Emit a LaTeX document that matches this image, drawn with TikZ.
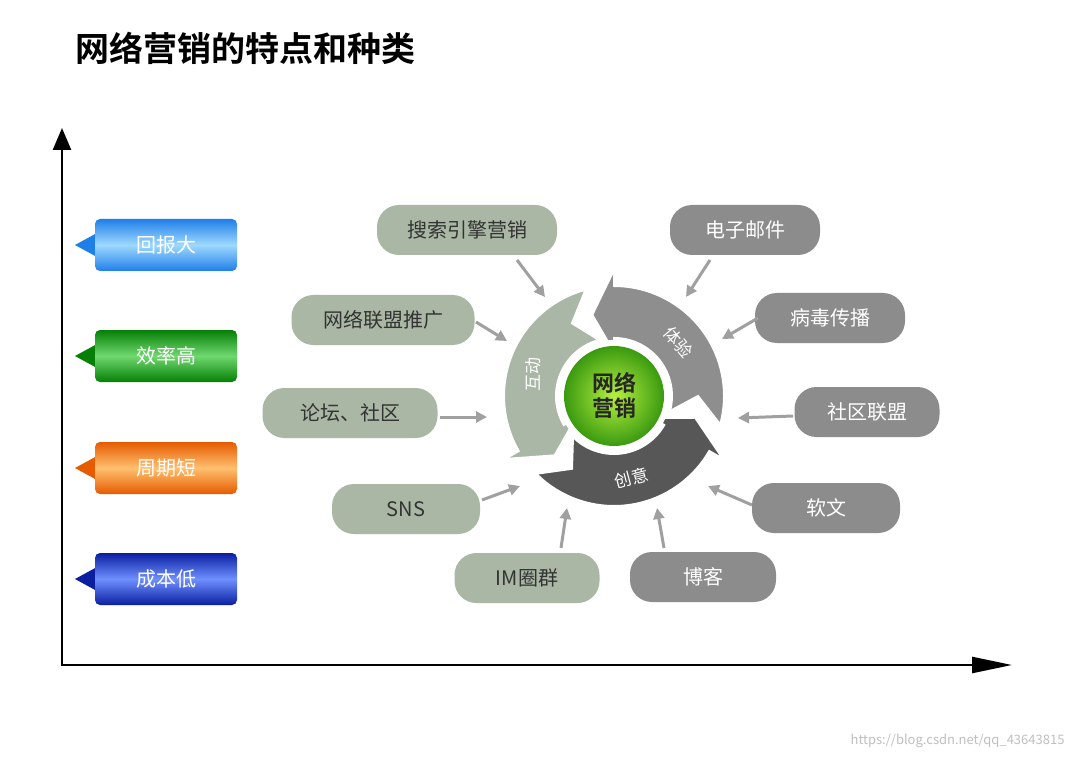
\documentclass[tikz,border=0pt]{standalone}
\usepackage{fontspec}
\setmainfont{Noto Sans CJK SC}
\newfontfamily\cjkb{Noto Sans CJK SC Bold}
\usetikzlibrary{arrows.meta,calc}
\definecolor{pillL}{HTML}{A9B7A4}
\definecolor{pillR}{HTML}{8C8C8C}
\definecolor{segA}{HTML}{AAB6A6}
\definecolor{segB}{HTML}{8E8E8E}
\definecolor{segC}{HTML}{575757}
\definecolor{arr}{HTML}{A0A0A0}
\definecolor{ballin}{HTML}{B8F040}
\definecolor{ballout}{HTML}{3A9A10}
\tikzset{
  pl/.style={fill=pillL,rounded corners=22pt,minimum height=50pt,text=black!80,font=\fontsize{20}{20}\selectfont,inner sep=0pt},
  pr/.style={fill=pillR,rounded corners=22pt,minimum height=50pt,text=white,font=\fontsize{20}{20}\selectfont,inner sep=0pt},
  feed/.style={draw=arr,line width=3pt,-{Triangle[length=11pt,width=11pt]}},
  seglab/.style={text=white,font=\fontsize{17}{17}\selectfont,inner sep=1pt},
  tagtxt/.style={text=white,font=\fontsize{20}{20}\selectfont}
}
\begin{document}
\begin{tikzpicture}[x=1pt,y=1pt]
\useasboundingbox[fill=white] (0,0) rectangle (1076,-759);
\node[anchor=west,font=\cjkb\fontsize{34}{34}\selectfont] (title) at (72,-48) {网络营销的特点和种类};
% axes
\coordinate (o) at (62,-665);
\coordinate (yt) at (62,-128);
\coordinate (xt) at (1012,-665);
\draw[line width=2.5pt,-{Triangle[length=22pt,width=18pt]}] (o) -- (yt);
\draw[line width=2.5pt,-{Triangle[length=40pt,width=16pt]}] ($(o)+(-1.2,0)$) -- (xt);
% tags
\foreach \y/\ca/\cb/\t/\n in {245/9FD8FF/1E7FE8/回报大/ta,356/6FD86F/067F06/效率高/tb,468/FFC070/E65A00/周期短/tc,579/6F8FFF/0A1FA0/成本低/td}{
  \definecolor{tc1}{HTML}{\ca}\definecolor{tc2}{HTML}{\cb}
  \fill[tc2] (75,-\y) -- (97,-\y+12) -- (97,-\y-12) -- cycle;
  \shade[rounded corners=5pt,top color=tc2,bottom color=tc2,middle color=tc1] (95,-\y+26) rectangle (237,-\y-26);
  \node[tagtxt] (\n) at (166,-\y) {\t};
}
% ring
\coordinate (c) at (614,-396);
\def\Ro{110}\def\Ri{58}\def\Rm{84}
\newcommand{\seg}[4]{% start, bodyend, color, tip
  \fill[#3,draw=white,line width=2pt]
   ($(c)+(#1:\Ro)$) arc[start angle=#1,end angle=#2,radius=\Ro]
   -- ($(c)+(#2:\Ro+16)$) -- ($(c)+(#4:\Rm)$) -- ($(c)+(#2:\Ri-14)$)
   -- ($(c)+(#2:\Ri)$) arc[start angle=#2,end angle=#1,radius=\Ri]
   -- ($(c)+(#1+15:\Rm)$) -- cycle;}
\seg{105}{210}{segA}{225}
\seg{225}{330}{segC}{345}
\seg{-15}{90}{segB}{105}
\fill[white] (c) circle (56);
\shade[inner color=ballin,outer color=ballout] (c) circle (50);
\node[font=\cjkb\fontsize{22}{25}\selectfont,align=center,text=black!85] (center) at (c) {网络\\营销};
\node[seglab,rotate=90] (hd) at ($(c)+(165:\Rm)$) {互动};
\node[seglab,rotate=-50] (ty) at ($(c)+(40:\Rm)$) {体验};
\node[seglab,rotate=15] (cy) at ($(c)+(282:\Rm)$) {创意};
% pills
\node[pl,minimum width=180pt] (p1) at (467,-230) {搜索引擎营销};
\node[pl,minimum width=183pt] (p2) at (383,-320) {网络联盟推广};
\node[pl,minimum width=175pt] (p3) at (350,-413) {论坛、社区};
\node[pl,minimum width=148pt] (p4) at (406,-509) {SNS};
\node[pl,minimum width=145pt] (p5) at (527,-578) {IM圈群};
\node[pr,minimum width=150pt] (q1) at (745,-230) {电子邮件};
\node[pr,minimum width=150pt] (q2) at (830,-318) {病毒传播};
\node[pr,minimum width=145pt] (q3) at (867,-412) {社区联盟};
\node[pr,minimum width=148pt] (q4) at (826,-508) {软文};
\node[pr,minimum width=146pt] (q5) at (703,-577) {博客};
% feeds
\coordinate (e1) at (545,-297);\coordinate (s1) at (517,-260);
\coordinate (e2) at (507,-341);\coordinate (s2) at (476,-322);
\coordinate (e3) at (487,-417);\coordinate (s3) at (440,-417);
\coordinate (e4) at (520,-486);\coordinate (s4) at (482,-500);
\coordinate (e5) at (567,-508);\coordinate (s5) at (561,-548);
\coordinate (f1) at (686,-297);\coordinate (t1) at (710,-260);
\coordinate (f2) at (722,-339);\coordinate (t2) at (758,-318);
\coordinate (f3) at (738,-418);\coordinate (t3) at (793,-416);
\coordinate (f4) at (708,-486);\coordinate (t4) at (752,-505);
\coordinate (f5) at (657,-508);\coordinate (t5) at (664,-548);
\foreach \a/\b in {s1/e1,s2/e2,s3/e3,s4/e4,s5/e5,t1/f1,t2/f2,t3/f3,t4/f4,t5/f5}
  \draw[feed] (\a) -- (\b);
\node[anchor=east,text=black!25,font=\fontsize{13}{13}\selectfont] (wm) at (1068,-741) {https://blog.csdn.net/qq\_43643815};
\end{tikzpicture}
\end{document}
